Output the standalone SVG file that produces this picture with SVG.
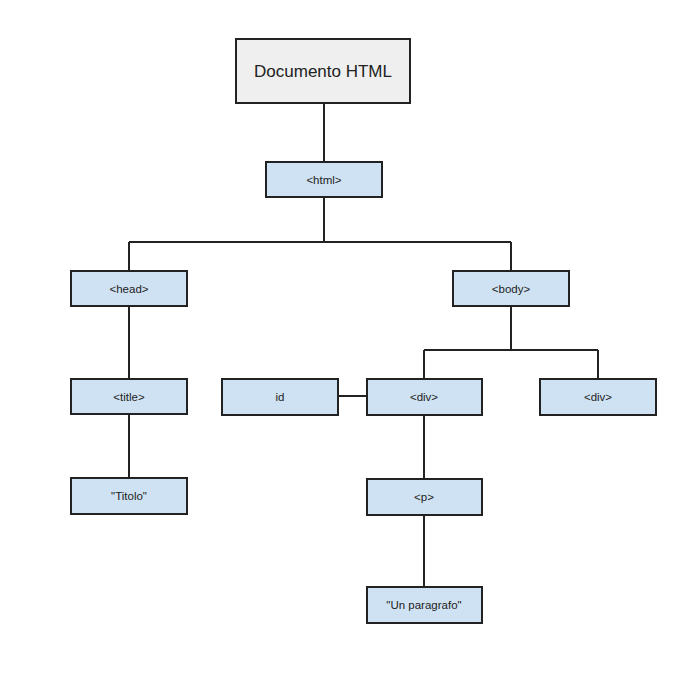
<svg xmlns="http://www.w3.org/2000/svg" width="696" height="681" viewBox="0 0 696 681">
<style>
.n rect{fill:#cfe2f3;stroke:#222;stroke-width:2}
.n text{font-family:"Liberation Sans",Arial,sans-serif;font-size:11.5px;fill:#222;text-anchor:middle}
#root rect{fill:#efefef}
#root text{font-size:17px}
.c{fill:none;stroke:#222;stroke-width:2}
</style>
<rect width="696" height="681" fill="#fff"/>
<g id="connectors">
<path class="c" d="M324 103V162"/>
<path class="c" d="M324 197V242M129 242H511M129 242V271M511 242V271"/>
<path class="c" d="M129 306V379M129 414V478"/>
<path class="c" d="M511 306V350M424 350H598M424 350V379M598 350V379"/>
<path class="c" d="M338 396H367"/>
<path class="c" d="M424 415V479M424 515V587"/>
</g>
<g id="root" class="n"><rect x="236" y="39" width="174" height="64"/><text x="323" y="77">Documento HTML</text></g>
<g id="html" class="n"><rect x="266" y="162" width="116" height="35"/><text x="324" y="183.5">&lt;html&gt;</text></g>
<g id="head" class="n"><rect x="71" y="271" width="116" height="35"/><text x="129" y="292.5">&lt;head&gt;</text></g>
<g id="body" class="n"><rect x="453" y="271" width="116" height="35"/><text x="511" y="292.5">&lt;body&gt;</text></g>
<g id="title" class="n"><rect x="71" y="379" width="116" height="35"/><text x="129" y="400.5">&lt;title&gt;</text></g>
<g id="titolo" class="n"><rect x="71" y="478" width="116" height="36"/><text x="129" y="500">"Titolo"</text></g>
<g id="id" class="n"><rect x="222" y="379" width="116" height="36"/><text x="280" y="401">id</text></g>
<g id="div1" class="n"><rect x="367" y="379" width="115" height="36"/><text x="424" y="401">&lt;div&gt;</text></g>
<g id="div2" class="n"><rect x="540" y="379" width="116" height="36"/><text x="598" y="401">&lt;div&gt;</text></g>
<g id="p" class="n"><rect x="367" y="479" width="115" height="36"/><text x="424" y="501">&lt;p&gt;</text></g>
<g id="para" class="n"><rect x="367" y="587" width="115" height="36"/><text x="424" y="609">"Un paragrafo"</text></g>
</svg>
